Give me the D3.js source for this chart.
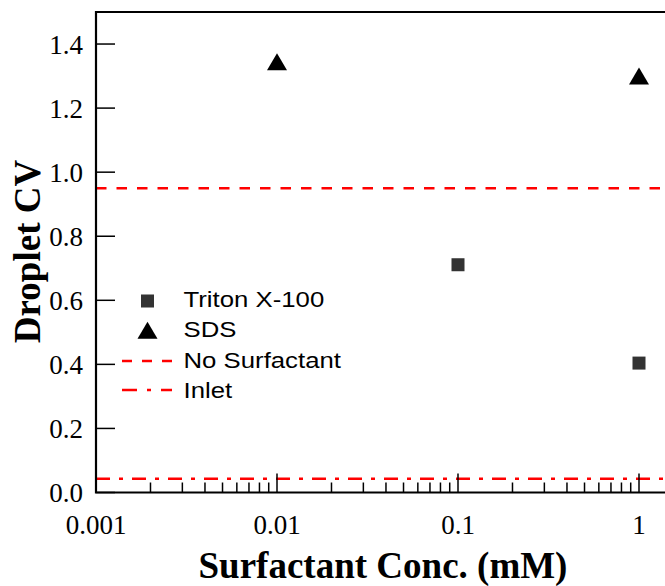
<!DOCTYPE html>
<html>
<head>
<meta charset="utf-8">
<script src="https://d3js.org/d3.v7.min.js"></script>
<style>
	body { margin: 0; background: #fff; }
</style>
</head>
<body>
<svg id="SVG" width="665" height="586"></svg>
<script>
// data
var tritonConc = [0.1, 1];
var tritonCV = [0.711, 0.404];
var sdsConc = [0.01, 1];
var sdsCV = [1.345, 1.30];
var noSurfactantCV = 0.95;
var inletCV = 0.043;
var xTickValues = [0.001, 0.01, 0.1, 1];
var yTickValues = [0, 0.2, 0.4, 0.6, 0.8, 1.0, 1.2, 1.4];
var legendLabels = ["Triton X-100", "SDS", "No Surfactant", "Inlet"];

function createSVG() {
	var svg = d3.select("#SVG"),
		plotLeft = 96, plotTop = 12, plotBottom = 492.5, decade = 181, plotRight = 665;

	var x = d3.scaleLog()
		.domain([0.001, 1.4])
		.range([plotLeft, plotLeft + decade * Math.log10(1400)]);

	var y = d3.scaleLinear()
		.domain([0, 1.5])
		.range([plotBottom, plotTop]);

	var serif = "'Liberation Serif', 'Times New Roman', serif";
	var sans = "'Liberation Sans', Arial, sans-serif";

	// minor ticks on x (2..9 per decade)
	var minor = [];
	[0.001, 0.01, 0.1].forEach(function(d) {
		for (var k = 2; k <= 9; k++) minor.push(d * k);
	});

	var g = svg.append("g");

	// reference lines
	g.append("line")
		.attr("x1", x(0.001)).attr("x2", plotRight)
		.attr("y1", y(noSurfactantCV)).attr("y2", y(noSurfactantCV))
		.attr("stroke", "#ff0000").attr("stroke-width", 2.5)
		.attr("stroke-dasharray", "10.5,10");

	g.append("line")
		.attr("x1", x(0.001)).attr("x2", plotRight)
		.attr("y1", y(inletCV)).attr("y2", y(inletCV))
		.attr("stroke", "#ff0000").attr("stroke-width", 2.5)
		.attr("stroke-dasharray", "14,9,4,9");

	// ticks (inward)
	g.selectAll(".minor")
		.data(minor)
		.enter().append("line")
			.attr("x1", function(d) { return x(d); })
			.attr("x2", function(d) { return x(d); })
			.attr("y1", plotBottom).attr("y2", plotBottom - 10)
			.attr("stroke", "#000").attr("stroke-width", 1.5);

	g.selectAll(".xmajor")
		.data(xTickValues)
		.enter().append("line")
			.attr("x1", function(d) { return x(d); })
			.attr("x2", function(d) { return x(d); })
			.attr("y1", plotBottom).attr("y2", plotBottom - 19)
			.attr("stroke", "#000").attr("stroke-width", 1.5);

	g.selectAll(".ymajor")
		.data(yTickValues)
		.enter().append("line")
			.attr("x1", plotLeft).attr("x2", plotLeft + 19)
			.attr("y1", function(d) { return y(d); })
			.attr("y2", function(d) { return y(d); })
			.attr("stroke", "#000").attr("stroke-width", 1.5);

	// frame
	g.append("path")
		.attr("d", "M" + plotRight + "," + plotTop + "H" + plotLeft + "V" + plotBottom + "H" + plotRight)
		.attr("fill", "none")
		.attr("stroke", "#000")
		.attr("stroke-width", 2.2);

	// tick labels
	g.selectAll(".xlab")
		.data(xTickValues)
		.enter().append("text")
			.attr("x", function(d) { return x(d); })
			.attr("y", 534)
			.attr("text-anchor", "middle")
			.attr("font-family", serif)
			.attr("font-size", 27)
			.text(function(d) { return d3.format("")(d); });

	g.selectAll(".ylab")
		.data(yTickValues)
		.enter().append("text")
			.attr("x", 83)
			.attr("y", function(d) { return y(d) + 9.5; })
			.attr("text-anchor", "end")
			.attr("font-family", serif)
			.attr("font-size", 27)
			.text(function(d) { return d3.format(".1f")(d); });

	// axis titles
	g.append("text")
		.attr("x", 383)
		.attr("y", 578)
		.attr("text-anchor", "middle")
		.attr("font-family", serif)
		.attr("font-weight", "bold")
		.attr("font-size", 37)
		.text("Surfactant Conc. (mM)");

	g.append("text")
		.attr("transform", "translate(40,251.5)rotate(-90)")
		.attr("text-anchor", "middle")
		.attr("font-family", serif)
		.attr("font-weight", "bold")
		.attr("font-size", 37)
		.text("Droplet CV");

	// markers
	var triangle = "M0,-8.5L10,8.5L-10,8.5Z";

	g.selectAll(".triton")
		.data(tritonConc)
		.enter().append("rect")
			.attr("x", function(d) { return x(d) - 6.5; })
			.attr("y", function(d, i) { return y(tritonCV[i]) - 6.5; })
			.attr("width", 13).attr("height", 13)
			.attr("fill", "#333");

	g.selectAll(".sds")
		.data(sdsConc)
		.enter().append("path")
			.attr("d", triangle)
			.attr("transform", function(d, i) { return "translate(" + x(d) + "," + y(sdsCV[i]) + ")"; })
			.attr("fill", "#000");

	// legend
	var legend = g.append("g")
		.selectAll("g")
		.data(legendLabels)
		.enter().append("g")
			.attr("transform", function(d, i) { return "translate(0," + (307 + i * 30.3) + ")"; });

	legend.append("text")
		.attr("transform", "translate(183.5,0)scale(1.12,1)")
		.attr("font-family", sans)
		.attr("font-size", 23)
		.text(function(d) { return d; });

	legend.filter(function(d, i) { return i == 0; })
		.append("rect")
			.attr("x", 141).attr("y", -12.5)
			.attr("width", 13).attr("height", 13)
			.attr("fill", "#333");

	legend.filter(function(d, i) { return i == 1; })
		.append("path")
			.attr("d", triangle)
			.attr("transform", "translate(147.5,-7)")
			.attr("fill", "#000");

	legend.filter(function(d, i) { return i == 2; })
		.append("line")
			.attr("x1", 122).attr("x2", 172)
			.attr("y1", -6.5).attr("y2", -6.5)
			.attr("stroke", "#ff0000").attr("stroke-width", 2.5)
			.attr("stroke-dasharray", "10,10");

	legend.filter(function(d, i) { return i == 3; })
		.append("line")
			.attr("x1", 122).attr("x2", 172)
			.attr("y1", -8).attr("y2", -8)
			.attr("stroke", "#ff0000").attr("stroke-width", 2.5)
			.attr("stroke-dasharray", "15,10,4,10");
}

createSVG();
</script>
</body>
</html>
